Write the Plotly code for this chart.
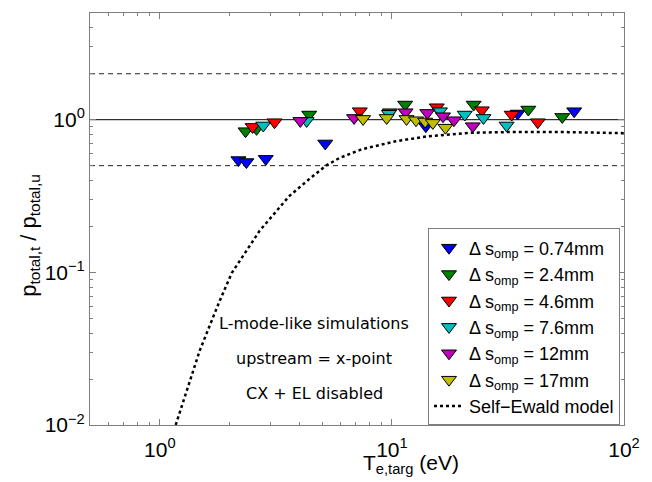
import plotly.graph_objects as go

# ---- data ----
labels = ["0.74mm", "2.4mm", "4.6mm", "7.6mm", "12mm", "17mm"]
colors = ["#0000FF", "#008000", "#FF0000", "#00BFBF", "#BF00BF", "#BFBF00"]

te_074 = [2.18, 2.36, 2.86, 5.16, 14.0, 34.8, 61.0]
pr_074 = [0.544, 0.528, 0.554, 0.699, 0.907, 1.098, 1.137]

te_24 = [2.34, 2.61, 4.40, 9.8, 11.4, 22.5, 38.7, 54.2]
pr_24 = [0.841, 0.871, 1.081, 1.12, 1.257, 1.257, 1.166, 1.043]

te_46 = [2.51, 3.12, 7.27, 15.6, 24.4, 32.8, 42.5]
pr_46 = [0.897, 0.963, 1.137, 1.207, 1.154, 1.081, 0.963]

te_76 = [2.79, 4.29, 9.71, 16.1, 20.6, 24.8, 31.2]
pr_76 = [0.917, 0.982, 1.094, 1.137, 1.081, 1.027, 0.917]

te_12 = [4.03, 6.87, 11.45, 14.2, 16.6, 18.5, 22.3]
pr_12 = [0.982, 1.027, 1.12, 1.108, 1.054, 0.992, 0.907]

te_17 = [7.51, 9.49, 11.56, 12.7, 13.9, 15.0, 17.0]
pr_17 = [1.012, 1.027, 1.012, 0.992, 0.973, 0.953, 0.887]

series_te = [te_074, te_24, te_46, te_76, te_12, te_17]
series_pr = [pr_074, pr_24, pr_46, pr_76, pr_12, pr_17]

# Self-Ewald model curve
model_te = [1.17, 1.485, 1.81, 2.04, 2.69, 3.61, 4.4, 5.2, 5.92, 7.43, 10.4, 14.4, 21.4, 34.0, 57.5, 100.0]
model_pr = [0.01, 0.0307, 0.0651, 0.099, 0.187, 0.316, 0.408, 0.5, 0.56, 0.641, 0.723, 0.78, 0.82, 0.832, 0.829, 0.816]

# reference lines
ref_te = [0.5, 100.0]
ref_levels = [1.0, 2.0, 0.5]

x_tickvals = [1, 10, 100]
x_ticktext = ["10<sup>0</sup>", "10<sup>1</sup>", "10<sup>2</sup>"]
x_minor = [0.6, 0.7, 0.8, 0.9, 2, 3, 4, 5, 6, 7, 8, 9, 20, 30, 40, 50, 60, 70, 80, 90]
y_tickvals = [0.01, 0.1, 1]
y_ticktext = ["10<sup>−2</sup>", "10<sup>−1</sup>", "10<sup>0</sup>"]
y_minor = [0.02, 0.03, 0.04, 0.05, 0.06, 0.07, 0.08, 0.09,
           0.2, 0.3, 0.4, 0.5, 0.6, 0.7, 0.8, 0.9, 2, 3, 4]

notes = ["L-mode-like simulations", "upstream = x-point", "CX + EL disabled"]
x_title = "T<sub>e,targ</sub> (eV)"
y_title = "p<sub>total,t</sub> / p<sub>total,u</sub>"

# ---- figure ----
fig = go.Figure()

for lvl in ref_levels:
    fig.add_trace(go.Scatter(
        x=ref_te, y=[lvl, lvl], mode="lines", showlegend=False, hoverinfo="skip",
        line=dict(color="#000000" if lvl == 1.0 else "#222222", width=1,
                  dash="solid" if lvl == 1.0 else "5px,4px")))

for lab, col, xs, ys in zip(labels, colors, series_te, series_pr):
    fig.add_trace(go.Scatter(
        x=xs, y=ys, mode="markers",
        name="Δ s<sub>omp</sub> = " + lab,
        marker=dict(symbol="triangle-down", size=13, color=col,
                    line=dict(color="#000000", width=1))))

fig.add_trace(go.Scatter(
    x=model_te, y=model_pr, mode="lines", name="Self−Ewald model",
    line=dict(color="#000000", width=2.5, dash="dot")))

font_main = "Liberation Sans, Arial, sans-serif"

axis_common = dict(
    type="log", showgrid=False, zeroline=False,
    showline=True, linecolor="#7f7f7f", linewidth=1, mirror="allticks",
    ticks="inside", ticklen=6, tickcolor="#7f7f7f",
    tickfont=dict(family=font_main, size=21, color="#000000"),
)

fig.update_xaxes(**axis_common, range=[-0.30103, 2],
                 tickvals=x_tickvals, ticktext=x_ticktext, ticklabelstandoff=6,
                 minor=dict(ticks="inside", ticklen=3, tickcolor="#7f7f7f",
                            tickvals=x_minor, showgrid=False))
fig.update_yaxes(**axis_common, range=[-2, 0.69897],
                 tickvals=y_tickvals, ticktext=y_ticktext,
                 minor=dict(ticks="inside", ticklen=3, tickcolor="#7f7f7f",
                            tickvals=y_minor, showgrid=False))

for i, t in enumerate(notes):
    fig.add_annotation(text=t, xref="paper", yref="paper",
                       x=(315 - 90) / 536, y=(425 - (323 + 35 * i)) / 413,
                       xanchor="center", yanchor="middle", showarrow=False,
                       font=dict(family="DejaVu Sans", size=16, color="#000000"))

fig.add_annotation(text=x_title, xref="paper", yref="paper",
                   x=(412 - 90) / 536, y=(425 - 449) / 413,
                   xanchor="center", yanchor="top", showarrow=False,
                   font=dict(family=font_main, size=21, color="#000000"))
fig.add_annotation(text=y_title, xref="paper", yref="paper", textangle=-90,
                   x=(30 - 90) / 536, y=(425 - 235) / 413,
                   xanchor="center", yanchor="middle", showarrow=False,
                   font=dict(family=font_main, size=22, color="#000000"))

fig.update_layout(
    width=652, height=482,
    margin=dict(l=90, r=26, t=12, b=57),
    paper_bgcolor="white", plot_bgcolor="white",
    legend=dict(x=(622 - 90) / 536, y=(425 - 228) / 413, xanchor="right", yanchor="top",
                bgcolor="white", bordercolor="#7f7f7f", borderwidth=1,
                font=dict(family=font_main, size=18, color="#000000"),
                itemwidth=30, tracegroupgap=0),
)

fig.write_html("out.html")
